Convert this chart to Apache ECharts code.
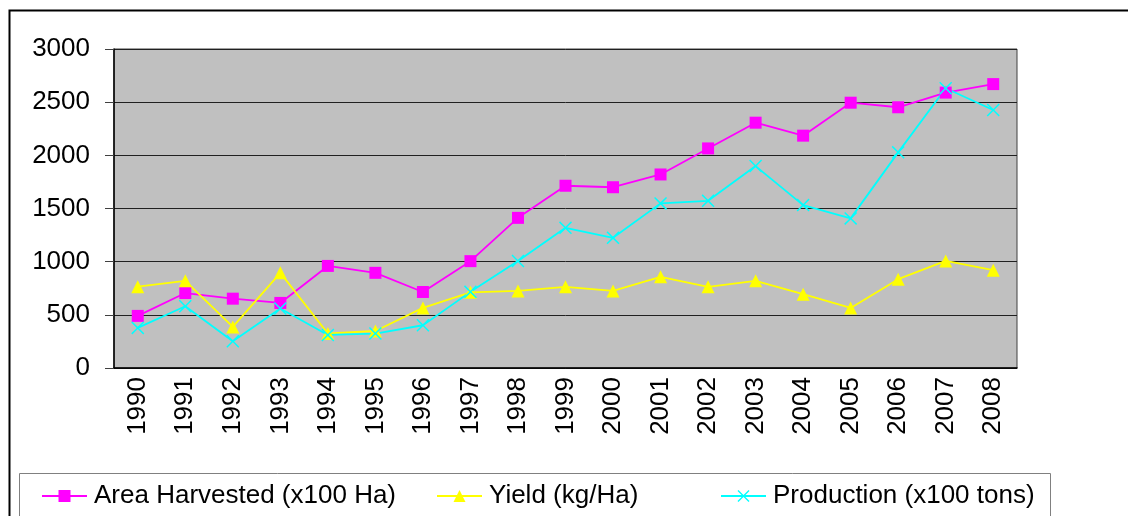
<!DOCTYPE html>
<html>
<head>
<meta charset="utf-8">
<title>Area, Yield and Production 1990-2008</title>
<script src="https://cdn.jsdelivr.net/npm/echarts@6/dist/echarts.min.js"></script>
<style>
  html, body { margin: 0; padding: 0; background: #fff; }
  #chart { width: 1128px; height: 516px; }
</style>
</head>
<body>
<div id="chart"></div>
<script>
// 数据
var years = ['1990','1991','1992','1993','1994','1995','1996','1997','1998','1999',
             '2000','2001','2002','2003','2004','2005','2006','2007','2008'];
var areaHarvested = [490, 705, 652, 612, 960, 895, 715, 1005, 1412, 1714,
                     1700, 1820, 2065, 2307, 2185, 2495, 2452, 2590, 2670];
var yieldKg = [765, 820, 386, 895, 325, 348, 565, 712, 725, 763,
               725, 857, 763, 820, 694, 565, 835, 1007, 920];
var production = [377, 581, 251, 559, 311, 324, 402, 716, 1007, 1318,
                  1224, 1548, 1572, 1899, 1532, 1407, 2028, 2631, 2426];
var yTicks = [0, 500, 1000, 1500, 2000, 2500, 3000];

var FONT = "'Liberation Sans', Arial, sans-serif";
var xMark = 'path://M0,8L8,0L50,42L92,0L100,8L58,50L100,92L92,100L50,58L8,100L0,92L42,50Z';

function legendAt(name, left) {
  return {
    data: [name], left: left, top: 483, padding: 0,
    itemWidth: 45, itemHeight: 15,
    textStyle: { fontSize: 26, fontFamily: FONT, color: '#000', padding: [0, 0, 0, 2] }
  };
}

var chart = echarts.init(document.getElementById('chart'));
chart.setOption({
  animation: false,
  backgroundColor: '#fff',
  grid: {
    left: 114, top: 49, right: 111, bottom: 148,
    show: true, backgroundColor: '#C0C0C0', borderColor: '#404040', borderWidth: 1
  },
  legend: [
    legendAt('Area Harvested (x100 Ha)', 41),
    legendAt('Yield (kg/Ha)', 436),
    legendAt('Production (x100 tons)', 720)
  ],
  xAxis: {
    type: 'category',
    data: years,
    boundaryGap: true,
    axisLine: { lineStyle: { color: '#000', width: 1.5 } },
    axisTick: { length: 9, lineStyle: { color: '#808080' } },
    axisLabel: { rotate: 90, margin: 9, fontSize: 26, fontFamily: FONT, color: '#000' }
  },
  yAxis: {
    type: 'value',
    min: yTicks[0], max: yTicks[yTicks.length - 1], interval: 500,
    axisLine: { show: true, lineStyle: { color: '#000', width: 1.5 } },
    axisTick: { show: true, length: 9, lineStyle: { color: '#404040' } },
    axisLabel: {
      margin: 24, fontSize: 26, fontFamily: FONT, color: '#000',
      formatter: function (v) { return String(v); }
    },
    splitLine: { lineStyle: { color: '#202020', width: 1 } }
  },
  series: [
    {
      name: 'Area Harvested (x100 Ha)', type: 'line', data: areaHarvested,
      symbol: 'rect', symbolSize: 12,
      lineStyle: { color: '#FF00FF', width: 1.8 },
      itemStyle: { color: '#FF00FF' }
    },
    {
      name: 'Yield (kg/Ha)', type: 'line', data: yieldKg,
      symbol: 'triangle', symbolSize: 13,
      lineStyle: { color: '#FFFF00', width: 1.8 },
      itemStyle: { color: '#FFFF00' }
    },
    {
      name: 'Production (x100 tons)', type: 'line', data: production,
      symbol: xMark, symbolSize: 13,
      lineStyle: { color: '#00FFFF', width: 1.8 },
      itemStyle: { color: '#00FFFF' }
    }
  ],
  graphic: [
    // 外框
    { type: 'rect', silent: true, shape: { x: 9.5, y: 10.5, width: 1300, height: 700 },
      style: { fill: 'none', stroke: '#000', lineWidth: 2 } },
    // 图例框
    { type: 'rect', silent: true, shape: { x: 19.5, y: 473.5, width: 1031, height: 100 },
      style: { fill: 'none', stroke: '#808080', lineWidth: 1 } }
  ]
});
</script>
</body>
</html>
